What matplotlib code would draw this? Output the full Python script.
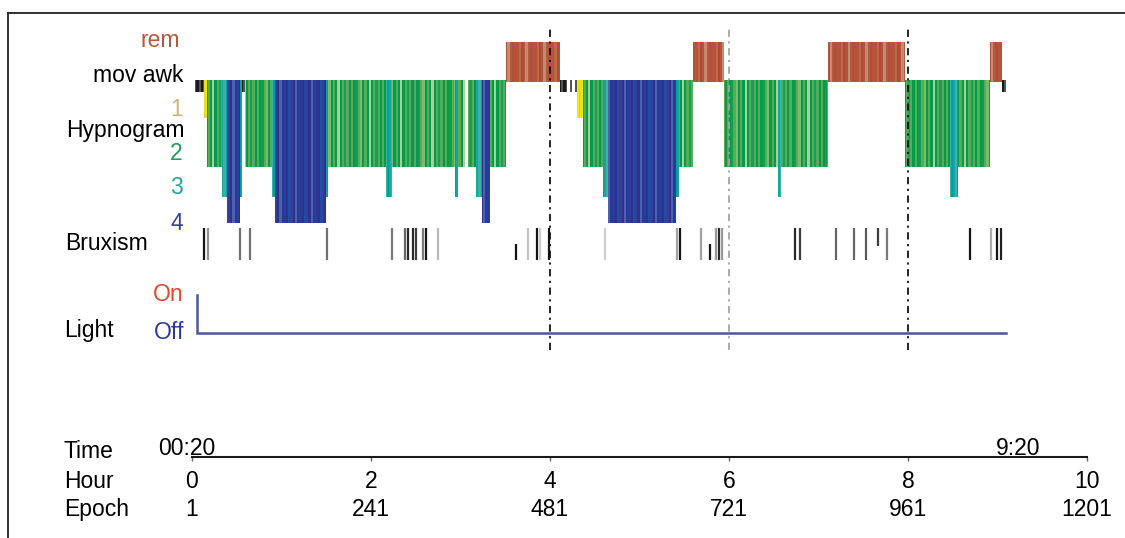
import matplotlib
matplotlib.use('Agg')
import matplotlib.pyplot as plt
import matplotlib.transforms as mtransforms
from matplotlib.lines import Line2D
import numpy as np

plt.rcParams['font.family'] = ['Liberation Sans', 'DejaVu Sans']
FS = 16.5

# ---------------- data ----------------
EPOCHS_PER_HOUR = 120
# hypnogram as run-length encoded stages (U = unscored, M = movement, W = awake, R = REM)
stage_run_labels = ['U', 'W', '1', '2', '3', '4', '3', 'W', '2', '3', '4', '3', '2', '3', '2',
                    '3', '2', 'M', '2', '3', '4', '2', 'R', 'W', 'M', 'W', 'M', 'W', '1', '2',
                    '3', '4', '3', '2', 'R', '2', '3', '2', 'R', '2', '3', '2', 'R', 'W']
stage_run_lengths = [4, 12, 4, 20, 7, 17, 3, 4, 36, 4, 69, 2, 78, 8, 85,
                     4, 9, 4, 11, 8, 11, 21, 72, 10, 4, 3, 3, 3, 8, 27,
                     7, 91, 4, 19, 41, 73, 4, 63, 103, 60, 11, 43, 16, 5]

# bruxism events (epoch index), darkness and vertical extent
brux_epochs = [16, 21, 64, 78, 181, 268, 286, 290, 296, 300, 310, 314, 330, 434, 450, 463,
               467, 479, 554, 650, 654, 682, 695, 703, 707, 711, 808, 815, 864, 888, 904,
               920, 932, 1043, 1071, 1079, 1085]
brux_intensity = [1.0, 0.4, 0.55, 0.55, 0.55, 0.5, 0.6, 0.9, 0.9, 0.8, 0.5, 1.0, 0.2, 1.0, 0.15, 1.0,
                  0.1, 1.0, 0.08, 0.3, 1.0, 0.3, 1.0, 0.35, 0.9, 0.35, 0.9, 0.8, 0.6, 0.6, 0.65,
                  0.8, 0.5, 1.0, 0.25, 1.0, 0.95]
brux_low = [0, 0, 0, 0, 0, 0, 0, 0, 0, 0, 0, 0, 0, 0, 0, 0,
            0, 0, 0, 0, 0, 0, 0, 0, 0, 0, 0, 0, 0, 0, 0,
            0.45, 0, 0, 0, 0, 0]
brux_high = [1, 1, 1, 1, 1, 1, 1, 1, 1, 1, 1, 1, 1, 0.5, 1, 1,
             1, 1, 1, 1, 1, 1, 0.5, 1, 1, 1, 1, 1, 1, 1, 1,
             1, 1, 1, 1, 1, 1]

# light: on -> off
light_epochs = [7, 7, 1091]
light_state = [1, 0, 0]

hour_ticks = [0, 2, 4, 6, 8, 10]
epoch_labels = ['1', '241', '481', '721', '961', '1201']
cycle_hours = [4, 6, 8]
start_time, end_time = '00:20', '9:20'

# ---------------- styling ----------------
W, H = 1125, 538
X0, X1 = 192, 1087


def rect(x0, y0, x1, y1):
    return [x0 / W, 1 - y1 / H, (x1 - x0) / W, (y1 - y0) / H]


def lvl(px):  # hypnogram level from pixel row (label rows 37 px apart)
    return (px - 38) / 37.0


stage_span = {'R': (lvl(42), lvl(82)), 'W': (lvl(80), lvl(92)), '1': (lvl(80), lvl(118)),
              '2': (lvl(80), lvl(167)), '3': (lvl(80), lvl(197)), '4': (lvl(80), lvl(223))}
palette = {
    'R': ['#b5533c', '#b5533c', '#bf6a3f', '#ad4b3b', '#b5533c', '#c78a70', '#b65a3e', '#b04f3c'],
    'W': ['#1a1a1a', '#555555'],
    '1': ['#f2e600', '#e2dc20'],
    '2': ['#009b4f', '#5aab55', '#009b4f', '#0f9e52', '#5aab55', '#7dbb6c', '#009b4f',
          '#5aab55', '#009b4f', '#a8d294', '#009b4f', '#5aab55', '#12a05a', '#5aab55'],
    '3': ['#00a19a', '#16a6a0', '#3bb2a8'],
    '4': ['#2e3192', '#1b4fa3', '#3a3c96', '#2e3192', '#4b62ad', '#263a9a', '#2c3a98'],
}

fig = plt.figure(figsize=(W / 100, H / 100), dpi=100)

# hypnogram + REM
ax_h = fig.add_axes(rect(X0, 38, X1, 223))
ax_h.set_xlim(0, 10)
ax_h.set_ylim(5, 0)
ax_h.axis('off')
stages = np.repeat(stage_run_labels, stage_run_lengths)
idx = np.arange(len(stages))
for st, (top, bot) in stage_span.items():
    m = stages == st
    e = idx[m]
    pal = palette[st]
    cols = [pal[(k // 3) % len(pal)] for k in e]
    ax_h.bar(e / EPOCHS_PER_HOUR, bot - top, bottom=top, width=1.0 / EPOCHS_PER_HOUR,
             align='edge', color=cols, linewidth=0, antialiased=False)

# bruxism
ax_b = fig.add_axes(rect(X0, 228, X1, 260))
ax_b.set_xlim(0, 10)
ax_b.set_ylim(0, 1)
ax_b.axis('off')
bcols = [(0.88 - 0.8 * v,) * 3 for v in brux_intensity]
ax_b.vlines(np.array(brux_epochs) / EPOCHS_PER_HOUR, brux_low, brux_high, colors=bcols, lw=1.6)

# light
ax_l = fig.add_axes(rect(X0, 295, X1, 333))
ax_l.set_xlim(0, 10)
ax_l.set_ylim(0, 1)
ax_l.axis('off')
ax_l.plot(np.array(light_epochs) / EPOCHS_PER_HOUR, light_state, color='#4b55a8', lw=1.8,
          clip_on=False, solid_joinstyle='miter')

# time axis
ax_t = fig.add_axes(rect(X0, 437, X1, 457))
ax_t.set_xlim(0, 10)
ax_t.set_ylim(0, 1)
ax_t.patch.set_visible(False)
for s in ['top', 'left', 'right']:
    ax_t.spines[s].set_visible(False)
ax_t.spines['bottom'].set_linewidth(1.5)
ax_t.spines['bottom'].set_color('#1a1a1a')
ax_t.set_yticks([])
ax_t.set_xticks(hour_ticks, labels=[str(h) for h in hour_ticks])
ax_t.tick_params(axis='x', direction='out', length=3, width=1, color='#666666',
                 labelsize=FS, pad=6)
tr = mtransforms.blended_transform_factory(ax_t.transData, fig.transFigure)
for h, lab in zip(hour_ticks, epoch_labels):
    ax_t.text(h, 1 - 516 / H, lab, transform=tr, ha='center', va='baseline', fontsize=FS)
ax_t.text(-0.06, 1 - 455 / H, start_time, transform=tr, ha='center', va='baseline', fontsize=FS)
ax_t.text(9.23, 1 - 455 / H, end_time, transform=tr, ha='center', va='baseline', fontsize=FS)

# cycle marker lines
ax_c = fig.add_axes(rect(X0, 28, X1, 350))
ax_c.set_xlim(0, 10)
ax_c.set_ylim(0, 1)
ax_c.axis('off')
cyc_colors = ['#111111', '#a8a2a0', '#111111']
for h, c in zip(cycle_hours, cyc_colors):
    ax_c.axvline(h, color=c, lw=1.3, linestyle=(0, (4, 2.5, 1.2, 2.5)))

# row labels
def flabel(x, y, s, ha='right', color='black'):
    fig.text(x / W, 1 - y / H, s, ha=ha, va='baseline', fontsize=FS, color=color)

flabel(180, 47, 'rem', color='#b4583f')
flabel(183, 82, 'mov awk')
flabel(183, 116, '1', color='#c8b878')
flabel(185, 137, 'Hypnogram')
flabel(183, 160, '2', color='#1f9e5a')
flabel(183, 194, '3', color='#26a69a')
flabel(183, 230, '4', color='#3a3f9a')
flabel(65, 250, 'Bruxism', ha='left')
flabel(184, 301, 'On', color='#e8452c')
flabel(184, 339, 'Off', color='#2a3a9a')
flabel(64, 337, 'Light', ha='left')
flabel(64, 458, 'Time', ha='left')
flabel(64, 488, 'Hour', ha='left')
flabel(64, 516, 'Epoch', ha='left')

# frame
fig.add_artist(Line2D([8 / W, 1], [1 - 13 / H, 1 - 13 / H], transform=fig.transFigure,
                      color='#222222', lw=1.3))
fig.add_artist(Line2D([8 / W, 8 / W], [0, 1 - 13 / H], transform=fig.transFigure,
                      color='#222222', lw=1.3))

fig.savefig('out.png', dpi=100)
